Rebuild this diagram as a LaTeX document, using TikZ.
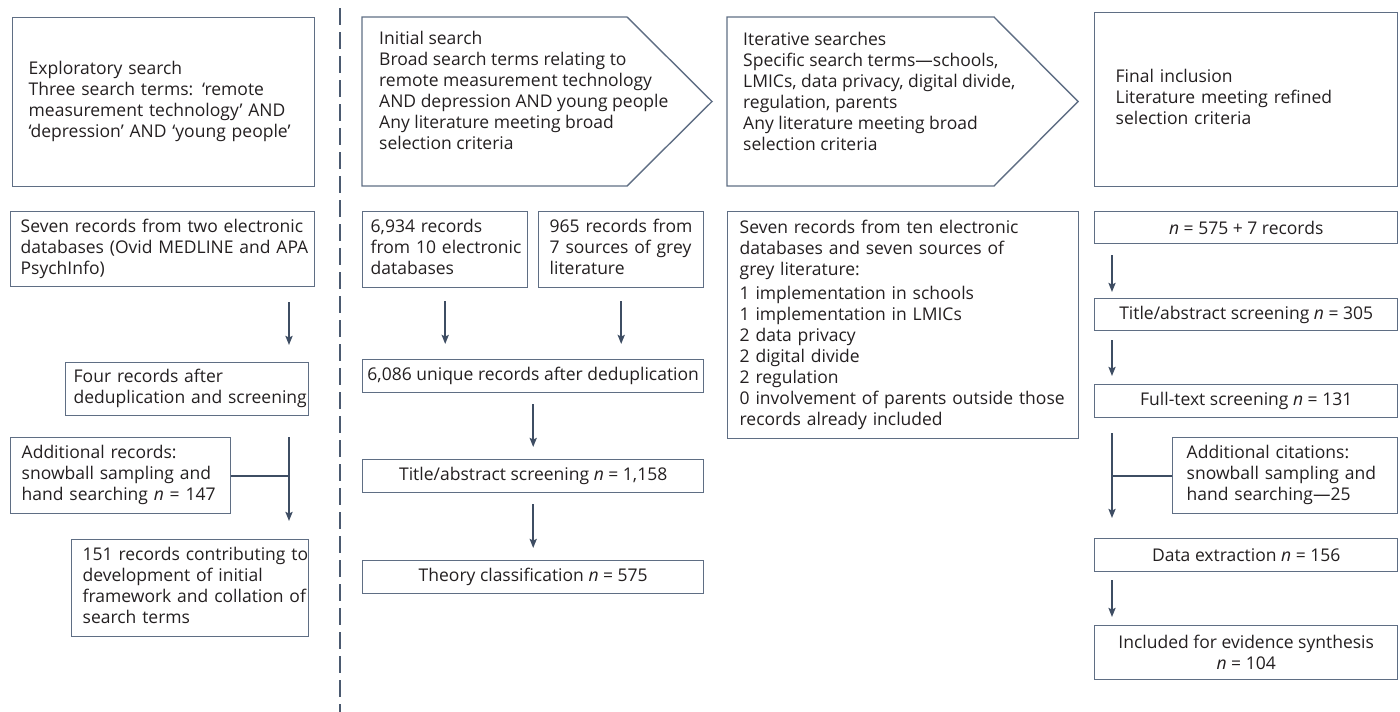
\documentclass[tikz,border=0pt]{standalone}
\usepackage{fontspec}
\setmainfont{Open Sans}
\usetikzlibrary{arrows.meta}
\definecolor{edgec}{HTML}{5F6E84}
\definecolor{arrowc}{HTML}{3E4D63}
\definecolor{divc}{HTML}{4B5A70}
\definecolor{ink}{HTML}{231F20}
\newcommand{\rows}[1]{\begin{tabular}{@{}l@{}}#1\end{tabular}}

\begin{document}
\begin{tikzpicture}[x=1pt, y=-1pt,
    font=\fontsize{17.5}{21}\selectfont, text=ink,
    rec/.style={draw=edgec, line width=1.4pt, anchor=north west, inner ysep=0pt},
    lrec/.style={rec, align=left},
    crec/.style={rec, align=center, inner xsep=0pt},
    hdr/.style={draw=edgec, line width=1.4pt},
    arr/.style={draw=arrowc, line width=2pt, -{Stealth[length=9pt, width=7pt, inset=1.5pt]}},
    link/.style={draw=arrowc, line width=2pt}]

    \useasboundingbox (0,0) rectangle (1400,712);

    % Divider
    \draw[draw=divc, line width=2.5pt, dash pattern=on 17pt off 7pt] (340,8) -- (340,712);

    % Exploratory search
    \node[lrec, minimum width=302pt, minimum height=169pt, inner xsep=16pt, text width=270pt]
        (A) at (12,17) {\rows{Exploratory search\\Three search terms: ‘remote\\measurement technology’ AND\\‘depression’ AND ‘young people’}};
    \node[lrec, minimum width=304pt, minimum height=75pt, inner xsep=10pt, text width=284pt]
        (B) at (10,211) {\rows{Seven records from two electronic\\databases (Ovid MEDLINE and APA\\PsychInfo)}};
    \node[lrec, minimum width=243pt, minimum height=53pt, inner xsep=8pt, text width=227pt]
        (C) at (65,362) {\rows{Four records after\\deduplication and screening}};
    \node[lrec, minimum width=220pt, minimum height=76pt, inner xsep=11pt, text width=198pt]
        (D) at (10,437) {\rows{Additional records:\\snowball sampling and\\hand searching \textit{n} = 147}};
    \node[lrec, minimum width=237pt, minimum height=97pt, inner xsep=11pt, text width=215pt]
        (E) at (71,539) {\rows{151 records contributing to\\development of initial\\framework and collation of\\search terms}};

    % Initial search
    \draw[hdr] (362,17) -- (627,17) -- (712,101.5) -- (627,186) -- (362,186) -- cycle;
    \node[anchor=west, inner sep=0pt, align=left] (init) at (379,93)
        {\rows{Initial search\\Broad search terms relating to\\remote measurement technology\\AND depression AND young people\\Any literature meeting broad\\selection criteria}};
    \node[lrec, minimum width=165pt, minimum height=76pt, inner xsep=8pt, text width=149pt]
        (F) at (362,211) {\rows{6,934 records\\from 10 electronic\\databases}};
    \node[lrec, minimum width=165pt, minimum height=76pt, inner xsep=11pt, text width=143pt]
        (G) at (538,211) {\rows{965 records from\\7 sources of grey\\literature}};
    \node[crec, minimum width=341pt, minimum height=33pt]
        (H) at (362,359) {6,086 unique records after deduplication};
    \node[crec, minimum width=341pt, minimum height=33pt]
        (I) at (362,459) {Title/abstract screening \textit{n} = 1,158};
    \node[crec, minimum width=341pt, minimum height=33pt]
        (J) at (362,560) {Theory classification \textit{n} = 575};

    % Iterative searches
    \draw[hdr] (727,17) -- (994,17) -- (1078,101.5) -- (994,186) -- (727,186) -- cycle;
    \node[anchor=west, inner sep=0pt, align=left] (iter) at (743,94)
        {\rows{Iterative searches\\Specific search terms—schools,\\LMICs, data privacy, digital divide,\\regulation, parents\\Any literature meeting broad\\selection criteria}};
    \node[lrec, minimum width=351pt, minimum height=227pt, inner xsep=12pt, text width=327pt]
        (K) at (727,211) {\rows{Seven records from ten electronic\\databases and seven sources of\\grey literature:\\[3pt]1 implementation in schools\\1 implementation in LMICs\\2 data privacy\\2 digital divide\\2 regulation\\0 involvement of parents outside those\\records already included}};

    % Final inclusion
    \node[lrec, minimum width=303pt, minimum height=174pt, inner xsep=21pt, text width=261pt]
        (L) at (1094,12) {\rows{Final inclusion\\Literature meeting refined\\selection criteria}};
    \node[crec, minimum width=303pt, minimum height=32pt]
        (M) at (1094,211) {\textit{n} = 575 + 7 records};
    \node[crec, minimum width=303pt, minimum height=32pt]
        (N) at (1094,298) {Title/abstract screening \textit{n} = 305};
    \node[crec, minimum width=303pt, minimum height=33pt]
        (O) at (1094,384) {Full-text screening \textit{n} = 131};
    \node[lrec, minimum width=225pt, minimum height=76pt, inner xsep=14pt, text width=197pt]
        (P) at (1172,437) {\rows{Additional citations:\\snowball sampling and\\hand searching—25}};
    \node[crec, minimum width=303pt, minimum height=33pt]
        (Q) at (1094,538) {Data extraction \textit{n} = 156};
    \node[crec, minimum width=303pt, minimum height=54pt]
        (R) at (1094,625) {Included for evidence synthesis\\\textit{n} = 104};

    % Arrows
    \coordinate (c1) at (289,0);
    \coordinate (c4) at (1112,0);
    \draw[arr, shorten <=15pt, shorten >=17pt] (B.south -| c1) -- (C.north -| c1);
    \draw[arr, shorten <=21pt, shorten >=18pt] (C.south -| c1) -- (E.north -| c1);
    \draw[link] (D.east) -- (D.east -| c1);
    \draw[arr, shorten <=13pt, shorten >=15pt] (F.south) -- (F.south |- H.north);
    \draw[arr, shorten <=13pt, shorten >=15pt] (G.south) -- (G.south |- H.north);
    \draw[arr, shorten <=11pt, shorten >=12pt] (H.south) -- (I.north);
    \draw[arr, shorten <=11pt, shorten >=12pt] (I.south) -- (J.north);
    \draw[arr, shorten <=11pt, shorten >=6pt] (M.south -| c4) -- (N.north -| c4);
    \draw[arr, shorten <=9pt, shorten >=8pt] (N.south -| c4) -- (O.north -| c4);
    \draw[arr, shorten <=15pt, shorten >=20pt] (O.south -| c4) -- (Q.north -| c4);
    \draw[link] (P.west) -- (P.west -| c4);
    \draw[arr, shorten <=8pt, shorten >=8pt] (Q.south -| c4) -- (R.north -| c4);

\end{tikzpicture}
\end{document}
